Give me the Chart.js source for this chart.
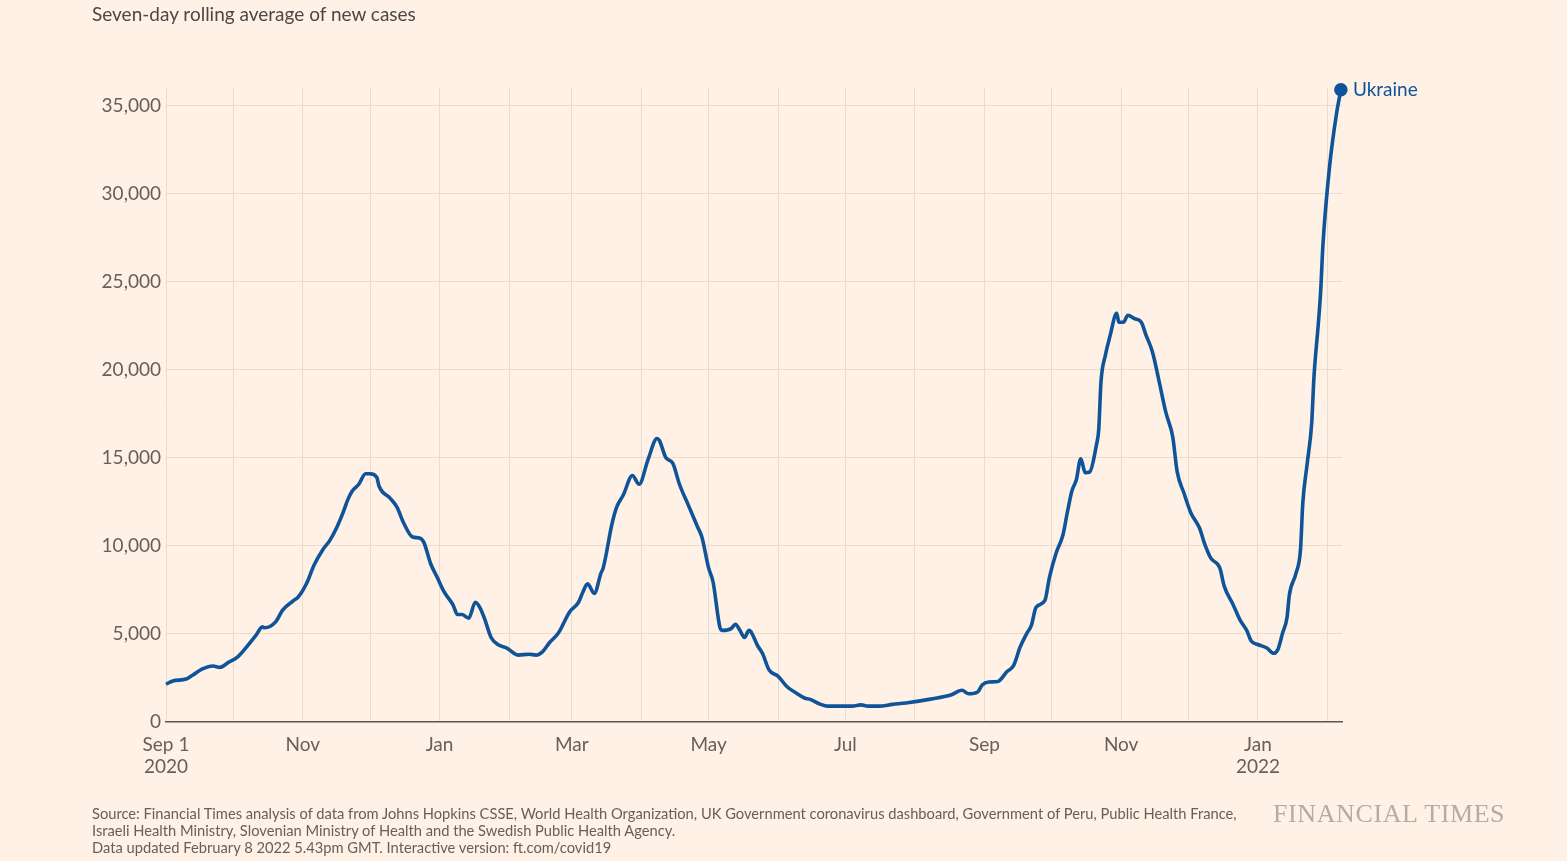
<!DOCTYPE html>
<html>
<head>
<meta charset="utf-8">
<script src="https://cdn.jsdelivr.net/npm/chart.js@4.4.1/dist/chart.umd.min.js"></script>
<style>
  html, body { margin: 0; padding: 0; background: #fff1e5; }
  body { width: 1567px; height: 861px; position: relative; overflow: hidden; font-family: Lato, "Open Sans", sans-serif; }
  #wrap { position: absolute; left: 0; top: 0; width: 1567px; height: 861px; }
  .title { position: absolute; left: 92px; top: 2px; font-size: 19px; color: #4d4845; }
  .source { position: absolute; left: 92px; top: 805px; font-size: 14.7px; line-height: 17px; color: #66605c; }
  .logo { position: absolute; left: 1273px; top: 799px; font-family: "Liberation Serif", "DejaVu Serif", serif; font-size: 26px; color: #b5aca5; letter-spacing: 0.6px; }
</style>
</head>
<body>
<div id="wrap"><canvas id="chart" width="1567" height="861"></canvas></div>
<div class="title">Seven-day rolling average of new cases</div>
<div class="source">
  Source: Financial Times analysis of data from Johns Hopkins CSSE, World Health Organization, UK Government coronavirus dashboard, Government of Peru, Public Health France,<br>
  Israeli Health Ministry, Slovenian Ministry of Health and the Swedish Public Health Agency.<br>
  Data updated February 8 2022 5.43pm GMT. Interactive version: ft.com/covid19
</div>
<div class="logo">FINANCIAL TIMES</div>
<script>
// days since Sep 1 2020
const days = [0, 3, 9, 12, 16, 21, 24, 28, 32, 36, 40, 43, 44, 49, 52, 57, 59, 63, 66, 70, 73, 76, 79, 81, 83, 86, 89, 91, 94, 95,
  100, 103, 106, 110, 113, 115, 118, 121, 124, 128, 130, 132, 135, 138, 140, 142, 145, 148, 152, 157, 162, 165, 168, 171, 175,
  180, 184, 186, 188, 191, 194, 195, 199, 201, 204, 208, 211, 215, 219, 220, 223, 226, 229, 233, 237, 239, 242, 244, 247, 248,
  252, 254, 256, 258, 260, 264, 266, 269, 273, 277, 281, 285, 287, 292, 295, 306, 310, 313, 318, 324, 330, 341, 350, 355, 358,
  362, 364, 367, 371, 375, 378, 381, 384, 386, 388, 392, 394, 397, 400, 402, 404, 406, 408, 410, 412, 415, 416, 417, 419, 421,
  424, 425, 427, 429, 432, 435, 437, 440, 443, 446, 449, 451, 454, 457, 461, 463, 466, 470, 472, 476, 479, 482, 484, 487, 491,
  494, 496, 498, 500, 501, 504, 506, 507, 509, 511, 512, 514, 515, 516, 519, 522, 524];
const cases = [2150, 2330, 2440, 2670, 3000, 3180, 3100, 3400, 3700, 4270, 4900, 5400, 5350, 5700, 6350, 6900, 7100, 7950, 8900, 9800,
  10300, 11000, 11900, 12600, 13100, 13500, 14100, 14100, 13900, 13400,
  12700, 12200, 11300, 10500, 10450, 10200, 9000, 8200, 7400, 6650, 6100, 6100, 5900, 6800, 6500, 5900, 4800, 4400, 4200, 3800,
  3850, 3800, 4000, 4500, 5050, 6250, 6800, 7400, 7850, 7300, 8450, 8750, 11300, 12200, 12900, 14000, 13500, 14900, 16100, 16000,
  15000, 14700, 13500, 12300, 11100, 10500, 8750, 7950, 5400, 5200,
  5300, 5550, 5200, 4800, 5200, 4300, 3900, 2950, 2600, 2000, 1650, 1350, 1300, 1000, 900, 900, 970, 900, 900, 1000,
  1080, 1300, 1530, 1800, 1600,
  1700, 2100, 2270, 2300, 2850, 3200, 4270, 5050, 5500, 6500, 6900, 8200, 9600, 10600, 11900, 13100, 13750, 14950, 14150, 14200,
  15750, 16600, 19300, 20850, 21900,
  23200, 22700, 22700, 23100, 22900, 22700, 22000, 21000, 19300, 17550, 16200, 14200, 13000, 11900, 11000, 10200, 9300, 8750, 7700,
  6650, 5800, 5200, 4600, 4400, 4200,
  3900, 4150, 5050, 5950, 7200, 8450, 9800, 12400, 14700, 17000, 19600, 22700, 24500, 27100, 31600, 34500, 35900];

const monthDays = [0, 30, 61, 91, 122, 153, 181, 212, 242, 273, 303, 334, 365, 395, 426, 456, 487, 518];
const monthLabels = [['Sep 1', '2020'], '', 'Nov', '', 'Jan', '', 'Mar', '', 'May', '', 'Jul', '', 'Sep', '', 'Nov', '', ['Jan', '2022'], ''];
const yTicks = [0, 5000, 10000, 15000, 20000, 25000, 30000, 35000];
const seriesName = 'Ukraine';

const lineColor = '#0f5499';
const gridColor = '#e9dccf';
const textColor = '#66605c';
const fontFamily = 'Lato, "Open Sans", sans-serif';

const endLabel = {
  id: 'endLabel',
  afterDatasetsDraw(chart) {
    const meta = chart.getDatasetMeta(0);
    const pt = meta.data[meta.data.length - 1];
    const ctx = chart.ctx;
    ctx.save();
    ctx.fillStyle = lineColor;
    ctx.font = '19px ' + fontFamily;
    ctx.textBaseline = 'middle';
    ctx.fillText(seriesName, pt.x + 12, pt.y);
    ctx.restore();
  }
};

const ctx = document.getElementById('chart').getContext('2d');
new Chart(ctx, {
  type: 'line',
  data: {
    datasets: [{
      label: seriesName,
      data: days.map((d, i) => ({ x: d, y: cases[i] })),
      borderColor: lineColor,
      backgroundColor: lineColor,
      borderWidth: 3.6,
      cubicInterpolationMode: 'monotone',
      pointRadius: c => (c.dataIndex === days.length - 1 ? 5 : 0),
      pointHoverRadius: 0,
      clip: false
    }]
  },
  plugins: [endLabel],
  options: {
    responsive: false,
    animation: false,
    layout: { padding: { top: 88, right: 225, bottom: 59, left: 0 } },
    plugins: { legend: { display: false }, tooltip: { enabled: false } },
    scales: {
      x: {
        type: 'linear',
        min: 0,
        max: 524.5,
        afterBuildTicks: axis => { axis.ticks = monthDays.map(v => ({ value: v })); },
        afterFit: axis => { axis.height = 80; },
        grid: { color: gridColor, lineWidth: 1, drawTicks: false },
        border: { display: true, color: '#5e5650', width: 1.5 },
        ticks: {
          autoSkip: false,
          maxRotation: 0,
          padding: 12,
          color: textColor,
          font: { family: fontFamily, size: 19, lineHeight: 1.15 },
          callback: (v, i) => monthLabels[i]
        }
      },
      y: {
        min: 0,
        max: 36000,
        afterBuildTicks: axis => { axis.ticks = yTicks.map(v => ({ value: v })); },
        afterFit: axis => { axis.width = 166; },
        grid: { color: c => (c.tick && c.tick.value === 0 ? 'rgba(0,0,0,0)' : gridColor), drawTicks: false },
        border: { display: false },
        ticks: {
          padding: 5,
          color: textColor,
          font: { family: fontFamily, size: 19 },
          callback: v => v.toLocaleString('en-US')
        }
      }
    }
  }
});
</script>
</body>
</html>
